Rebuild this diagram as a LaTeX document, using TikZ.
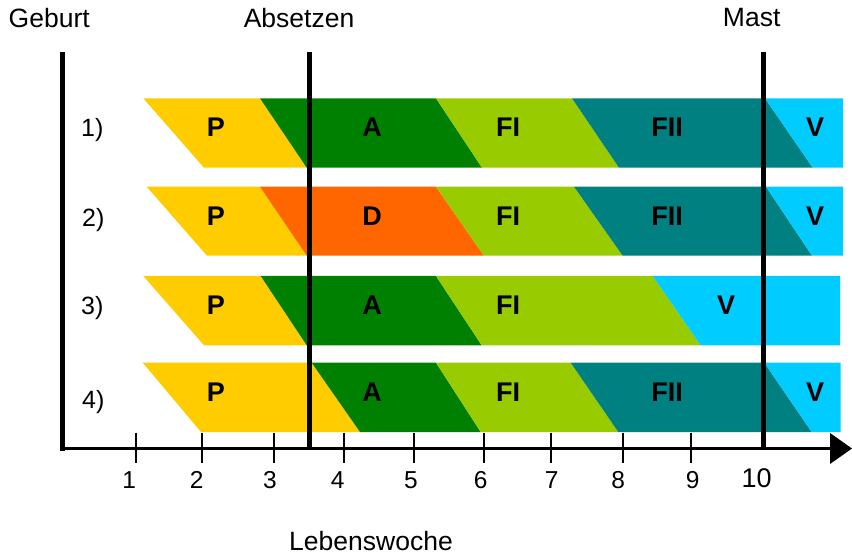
\documentclass[tikz,border=0pt]{standalone}
\usepackage{fontspec}
\setmainfont{Liberation Sans}
\definecolor{cP}{HTML}{FFCC00}
\definecolor{cA}{HTML}{008000}
\definecolor{cFI}{HTML}{99CC00}
\definecolor{cFII}{HTML}{008080}
\definecolor{cV}{HTML}{00CCFF}
\definecolor{cD}{HTML}{FF6600}
\newcommand\rowseg[7]{\fill[#1] (#4,#2) -- (#6,#2) -- (#7,#3) -- (#5,#3) -- cycle;}
\begin{document}
\begin{tikzpicture}[x=1pt,y=-1pt,
  toplab/.style={inner sep=0pt,anchor=base,font=\fontsize{26.5}{30}\selectfont},
  numlab/.style={inner sep=0pt,anchor=base,font=\fontsize{24.5}{28}\selectfont},
  rowlab/.style={inner sep=0pt,anchor=base west,font=\fontsize{25}{28}\selectfont},
  seglab/.style={inner sep=0pt,anchor=base,font=\fontsize{27}{30}\selectfont\bfseries},
  thickline/.style={line width=4.5pt},
  tickline/.style={line width=2pt}]
\useasboundingbox (0,0) rectangle (852,556);
% Row 1
\rowseg{cP}{98.3}{167.7}{143.3}{204}{260}{306.7}
\rowseg{cA}{98.3}{167.7}{260}{306.7}{436}{482}
\rowseg{cFI}{98.3}{167.7}{436}{482}{572}{619}
\rowseg{cFII}{98.3}{167.7}{572}{619}{765}{812.7}
\rowseg{cV}{98.3}{167.7}{765}{812.7}{843}{843}
% Row 2
\rowseg{cP}{186.7}{255.7}{146.7}{207}{260}{306.7}
\rowseg{cD}{186.7}{255.7}{260}{306.7}{436}{484}
\rowseg{cFI}{186.7}{255.7}{436}{484}{574}{622.7}
\rowseg{cFII}{186.7}{255.7}{574}{622.7}{766}{812}
\rowseg{cV}{186.7}{255.7}{766}{812}{843}{843}
% Row 3
\rowseg{cP}{276}{345.3}{143.3}{204}{260.7}{306.7}
\rowseg{cA}{276}{345.3}{260.7}{306.7}{436}{481.7}
\rowseg{cFI}{276}{345.3}{436}{481.7}{652.7}{700.7}
\rowseg{cV}{276}{345.3}{652.7}{700.7}{840}{840}
% Row 4
\rowseg{cP}{362.7}{432}{142.7}{201}{311.7}{360}
\rowseg{cA}{362.7}{432}{311.7}{360}{436}{480.7}
\rowseg{cFI}{362.7}{432}{436}{480.7}{570.7}{618.3}
\rowseg{cFII}{362.7}{432}{570.7}{618.3}{764.3}{811.7}
\rowseg{cV}{362.7}{432}{764.3}{811.7}{840.7}{840.7}
% segment labels
\node[seglab] (p1) at (216,136.8) {P};
\node[seglab] (a1) at (372,136.8) {A};
\node[seglab] (f1) at (508,136.8) {FI};
\node[seglab] (g1) at (667,136.8) {FII};
\node[seglab] (v1) at (815,136.8) {V};
\node[seglab] (p2) at (216,225.2) {P};
\node[seglab] (d2) at (372,225.2) {D};
\node[seglab] (f2) at (508,225.2) {FI};
\node[seglab] (g2) at (667,225.2) {FII};
\node[seglab] (v2) at (815,225.2) {V};
\node[seglab] (p3) at (216,314.3) {P};
\node[seglab] (a3) at (372,314.3) {A};
\node[seglab] (f3) at (508,314.3) {FI};
\node[seglab] (v3) at (726,314.3) {V};
\node[seglab] (p4) at (216,401.5) {P};
\node[seglab] (a4) at (372,401.5) {A};
\node[seglab] (f4) at (508,401.5) {FI};
\node[seglab] (g4) at (667,401.5) {FII};
\node[seglab] (v4) at (815,401.5) {V};
% row labels
\node[rowlab] (r1) at (81,137) {1)};
\node[rowlab] (r2) at (82,226.7) {2)};
\node[rowlab] (r3) at (81,315) {3)};
\node[rowlab] (r4) at (82,408) {4)};
% axes
\coordinate (o) at (62.5,448.3);
\coordinate (ytop) at (62.5,52);
\coordinate (ybot) at (62.5,450.8);
\coordinate (xend) at (832,448.3);
\draw[line width=5pt] (ytop) -- (ybot);
\draw[line width=3pt] (o) -- (xend);
\fill (830,433) -- (852,448.5) -- (830,464) -- cycle;
% ticks
\foreach \x in {136,202.3,274,344.3,414,484,551,622.7,691}
  \draw[tickline] (\x,432.7) -- (\x,463.3);
% event lines
\coordinate (abtop) at (309.3,52);
\coordinate (abbot) at (309.3,448.3);
\coordinate (mtop) at (763.3,52);
\coordinate (mbot) at (763.3,448.3);
\draw[thickline] (abtop) -- (abbot);
\draw[thickline] (mtop) -- (mbot);
% tick labels
\node[numlab] (n1) at (129.3,488.3) {1};
\node[numlab] (n2) at (196.7,488.3) {2};
\node[numlab] (n3) at (270,488.3) {3};
\node[numlab] (n4) at (337.7,488.3) {4};
\node[numlab] (n5) at (411,488.3) {5};
\node[numlab] (n6) at (480.7,488.3) {6};
\node[numlab] (n7) at (551.7,488.3) {7};
\node[numlab] (n8) at (618.3,488.3) {8};
\node[numlab] (n9) at (692.7,488.3) {9};
\node[numlab,font=\fontsize{27}{30}\selectfont] (n10) at (756.7,487.5) {10};
% top labels
\node[toplab] (geburt) at (49.2,27.7) {Geburt};
\node[toplab] (absetzen) at (299,27.7) {Absetzen};
\node[toplab] (mast) at (751.7,26.9) {Mast};
\node[toplab] (woche) at (371,550) {Lebenswoche};
\end{tikzpicture}
\end{document}
